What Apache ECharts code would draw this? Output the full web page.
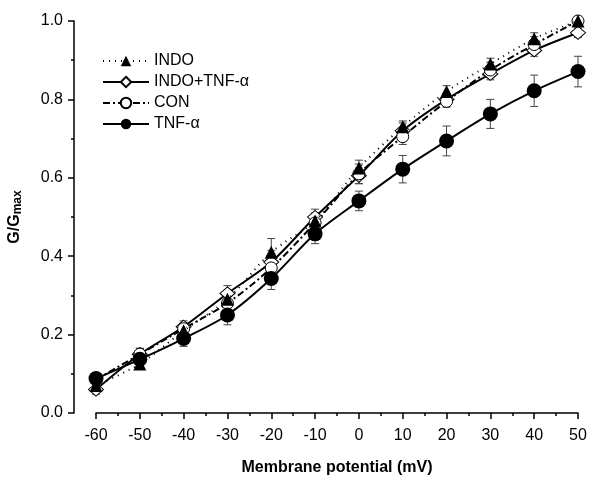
<!DOCTYPE html>
<html>
<head>
<meta charset="utf-8">
<script src="https://cdn.jsdelivr.net/npm/echarts@6/dist/echarts.min.js"></script>
<style>
  html, body { margin: 0; padding: 0; background: #fff; }
  #chart { width: 600px; height: 484px; }
</style>
</head>
<body>
<div id="chart"></div>
<script>
// membrane potential (mV)
const potentials = [-60, -50, -40, -30, -20, -10, 0, 10, 20, 30, 40, 50];

const indo = [0.07, 0.125, 0.21, 0.29, 0.41, 0.49, 0.625, 0.73, 0.82, 0.89, 0.955, 1.0];
const indoErr = [0.015, 0.012, 0.015, 0.02, 0.035, 0.02, 0.02, 0.015, 0.015, 0.015, 0.015, 0.01];

const indoTnf = [0.06, 0.15, 0.22, 0.305, 0.385, 0.50, 0.605, 0.72, 0.80, 0.865, 0.925, 0.97];
const indoTnfErr = [0.012, 0.015, 0.015, 0.02, 0.03, 0.02, 0.02, 0.02, 0.015, 0.015, 0.015, 0.012];

const con = [0.085, 0.15, 0.215, 0.28, 0.37, 0.485, 0.61, 0.705, 0.795, 0.875, 0.94, 1.0];
const conErr = [0.012, 0.015, 0.015, 0.02, 0.025, 0.02, 0.025, 0.02, 0.015, 0.02, 0.02, 0.012];

const tnf = [0.088, 0.137, 0.19, 0.25, 0.343, 0.457, 0.541, 0.622, 0.694, 0.763, 0.822, 0.871];
const tnfErr = [0.015, 0.015, 0.02, 0.025, 0.028, 0.025, 0.025, 0.035, 0.038, 0.037, 0.04, 0.039];

const font = 'Liberation Sans, Arial, sans-serif';

const pairs = (ys) => potentials.map((x, i) => [x, ys[i]]);

const errorSeries = (ys, errs) => ({
  type: 'custom',
  silent: true,
  z: 1,
  data: potentials.map((x, i) => [x, ys[i] - errs[i], ys[i] + errs[i]]),
  renderItem: function (params, api) {
    const lo = api.coord([api.value(0), api.value(1)]);
    const hi = api.coord([api.value(0), api.value(2)]);
    const w = 4;
    const style = { stroke: '#444', lineWidth: 1 };
    return {
      type: 'group',
      children: [
        { type: 'line', shape: { x1: lo[0], y1: lo[1], x2: hi[0], y2: hi[1] }, style },
        { type: 'line', shape: { x1: lo[0] - w, y1: lo[1], x2: lo[0] + w, y2: lo[1] }, style },
        { type: 'line', shape: { x1: hi[0] - w, y1: hi[1], x2: hi[0] + w, y2: hi[1] }, style }
      ]
    };
  }
});

const chart = echarts.init(document.getElementById('chart'));

chart.setOption({
  animation: false,
  backgroundColor: '#fff',
  textStyle: { fontFamily: font },
  grid: { left: 96, right: 22, top: 21, bottom: 71, outerBoundsMode: 'none' },
  legend: {
    orient: 'vertical',
    left: 97,
    top: 48,
    itemWidth: 46,
    itemHeight: 13,
    itemGap: 5,
    textStyle: { fontSize: 16, color: '#000', fontFamily: font },
    data: ['INDO', 'INDO+TNF-α', 'CON', 'TNF-α']
  },
  xAxis: {
    type: 'value',
    min: -60,
    max: 50,
    interval: 10,
    name: 'Membrane potential (mV)',
    nameLocation: 'middle',
    nameGap: 47,
    nameTextStyle: { fontSize: 16, fontWeight: 'bold', color: '#000' },
    axisLine: { onZero: false, lineStyle: { color: '#000', width: 1.5 } },
    axisTick: { length: 6, lineStyle: { color: '#000', width: 1.5 } },
    minorTick: { show: true, splitNumber: 2, length: 3, lineStyle: { color: '#000', width: 1.5 } },
    axisLabel: { fontSize: 16, color: '#000', margin: 15 },
    splitLine: { show: false }
  },
  yAxis: {
    type: 'value',
    min: 0,
    max: 1,
    interval: 0.2,
    offset: 22,
    name: '{a|G/G}{b|max}',
    nameLocation: 'middle',
    nameGap: 50,
    nameTextStyle: {
      rich: {
        a: { fontSize: 16, fontWeight: 'bold', color: '#000', fontFamily: font },
        b: { fontSize: 12, fontWeight: 'bold', color: '#000', fontFamily: font, padding: [6, 0, 0, 0] }
      }
    },
    axisLine: { show: true, onZero: false, lineStyle: { color: '#000', width: 1.5 } },
    axisTick: { show: true, length: 6, lineStyle: { color: '#000', width: 1.5 } },
    minorTick: { show: true, splitNumber: 2, length: 3, lineStyle: { color: '#000', width: 1.5 } },
    axisLabel: { fontSize: 16, color: '#000', margin: 11, formatter: v => v.toFixed(1) },
    splitLine: { show: false }
  },
  series: [
    errorSeries(indo, indoErr),
    errorSeries(indoTnf, indoTnfErr),
    errorSeries(con, conErr),
    errorSeries(tnf, tnfErr),
    {
      name: 'INDO',
      type: 'line',
      z: 4,
      smooth: 0.3,
      data: pairs(indo),
      symbol: 'triangle',
      symbolSize: 13,
      itemStyle: { color: '#000' },
      lineStyle: { color: '#000', width: 2, type: [1, 5] }
    },
    {
      name: 'INDO+TNF-α',
      type: 'line',
      z: 3,
      smooth: 0.3,
      data: pairs(indoTnf),
      symbol: 'diamond',
      symbolSize: [15, 13],
      itemStyle: { color: '#fff', borderColor: '#000', borderWidth: 1 },
      lineStyle: { color: '#000', width: 2 }
    },
    {
      name: 'CON',
      type: 'line',
      z: 3,
      smooth: 0.3,
      data: pairs(con),
      symbol: 'circle',
      symbolSize: 12,
      itemStyle: { color: '#fff', borderColor: '#000', borderWidth: 1 },
      lineStyle: { color: '#000', width: 2, type: [7, 3, 2, 3] }
    },
    {
      name: 'TNF-α',
      type: 'line',
      z: 5,
      smooth: 0.3,
      data: pairs(tnf),
      symbol: 'circle',
      symbolSize: 15,
      itemStyle: { color: '#000' },
      lineStyle: { color: '#000', width: 2 }
    }
  ]
});
</script>
</body>
</html>
